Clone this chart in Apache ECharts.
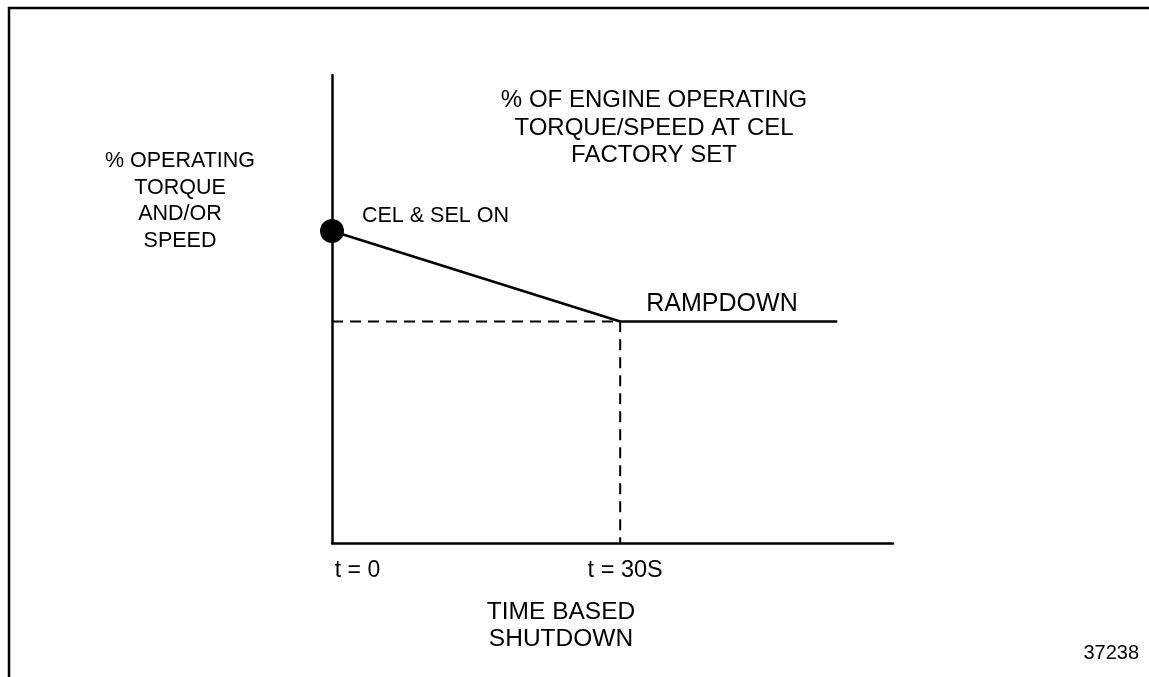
<!DOCTYPE html>
<html>
<head>
<meta charset="utf-8">
<title>Time Based Shutdown</title>
<script src="https://cdn.jsdelivr.net/npm/echarts@6/dist/echarts.min.js"></script>
<style>
  html, body { margin: 0; padding: 0; background: #fff; }
  #chart { width: 1149px; height: 677px; }
</style>
</head>
<body>
<div id="chart"></div>
<script>
// Time axis (seconds) and the tick labels shown under it
const timeTicks = [0, 30];
const tickLabels = ['t = 0', 't = 30S'];
const timeMax = 58.4;

// Operating torque/speed level (%)
const levelMax = 150;
const celOnPoint = [0, 100];          // CEL & SEL switch on
const rampTime = [0, 30, 52.6];       // ramp down, then hold
const rampLevel = [100, 71, 71];
const guideTime = [0, 30, 30];        // dashed guides to the 30 s point
const guideLevel = [71, 71, 0];
const rampLabelAt = [40.6, 71];

const FONT = '"Liberation Sans", Arial, Helvetica, sans-serif';
const pair = (xs, ys) => xs.map((x, i) => [x, ys[i]]);

const chart = echarts.init(document.getElementById('chart'), null, { renderer: 'canvas' });

chart.setOption({
  animation: false,
  backgroundColor: '#fff',
  textStyle: { fontFamily: FONT, color: '#000' },
  title: [
    {
      text: '% OF ENGINE OPERATING\nTORQUE/SPEED AT CEL\nFACTORY SET',
      left: 654, top: 87, textAlign: 'center', padding: 0,
      textStyle: { fontFamily: FONT, fontWeight: 'normal', fontSize: 24, lineHeight: 27.5, color: '#000', align: 'center' }
    },
    {
      text: '% OPERATING\nTORQUE\nAND/OR\nSPEED',
      left: 180, top: 148, textAlign: 'center', padding: 0,
      textStyle: { fontFamily: FONT, fontWeight: 'normal', fontSize: 21.5, lineHeight: 26.5, color: '#000', align: 'center' }
    },
    {
      text: 'TIME BASED\nSHUTDOWN',
      left: 561, top: 599, textAlign: 'center', padding: 0,
      textStyle: { fontFamily: FONT, fontWeight: 'normal', fontSize: 24.5, lineHeight: 27, color: '#000', align: 'center' }
    },
    {
      text: '37238',
      left: 1139, top: 643, textAlign: 'right', padding: 0,
      textStyle: { fontFamily: FONT, fontWeight: 'normal', fontSize: 20, color: '#000' }
    }
  ],
  graphic: [
    {
      type: 'rect', silent: true,
      shape: { x: 9, y: 8, width: 1200, height: 800 },
      style: { fill: 'none', stroke: '#000', lineWidth: 2.5 }
    }
  ],
  grid: { left: 332, right: 256, top: 75, bottom: 134 },
  xAxis: {
    type: 'value', min: 0, max: timeMax,
    axisLine: { show: true, onZero: false, lineStyle: { color: '#000', width: 2.5 } },
    axisTick: { show: false },
    splitLine: { show: false },
    axisLabel: {
      customValues: timeTicks,
      margin: 16,
      formatter: (v) => {
        const i = timeTicks.indexOf(v);
        return i === 0 ? '{a|' + tickLabels[0] + '}' : '{b|' + tickLabels[i] + '}';
      },
      rich: {
        a: { fontFamily: FONT, fontSize: 23, color: '#000', padding: [0, 0, 0, 51] },
        b: { fontFamily: FONT, fontSize: 23.5, color: '#000', padding: [0, 0, 0, 10] }
      }
    }
  },
  yAxis: {
    type: 'value', min: 0, max: levelMax,
    axisLine: { show: true, onZero: false, lineStyle: { color: '#000', width: 2.5 } },
    axisTick: { show: false },
    axisLabel: { show: false },
    splitLine: { show: false }
  },
  series: [
    {
      name: 'guides', type: 'line', z: 2,
      data: pair(guideTime, guideLevel),
      symbol: 'none',
      lineStyle: { color: '#000', width: 2, type: [11, 7] }
    },
    {
      name: 'rampdown', type: 'line', z: 3,
      data: pair(rampTime, rampLevel),
      symbol: 'none',
      lineStyle: { color: '#000', width: 2.5 },
      markPoint: {
        symbol: 'circle', symbolSize: 0, silent: true,
        data: [{ coord: rampLabelAt, value: 'RAMPDOWN' }],
        label: {
          show: true, position: 'inside', offset: [0, -17],
          formatter: 'RAMPDOWN',
          fontFamily: FONT, fontSize: 25, color: '#000'
        }
      }
    },
    {
      name: 'cel', type: 'scatter', z: 4,
      data: [celOnPoint],
      symbol: 'circle', symbolSize: 24,
      itemStyle: { color: '#000', opacity: 1 },
      label: {
        show: true, position: 'right', distance: 18, offset: [0, -15],
        formatter: 'CEL & SEL ON',
        fontFamily: FONT, fontSize: 21.5, color: '#000', opacity: 1
      }
    }
  ]
});
</script>
</body>
</html>
